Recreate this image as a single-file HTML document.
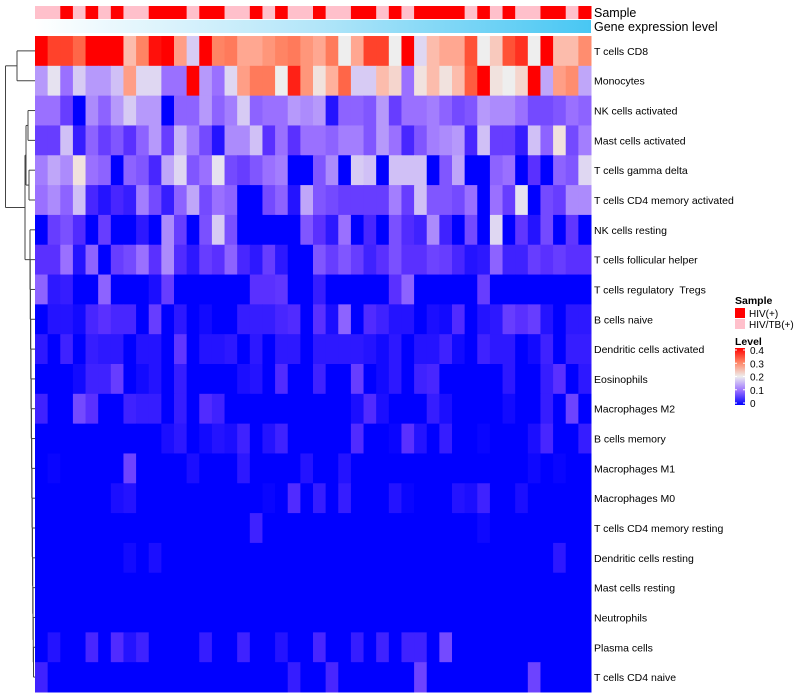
<!DOCTYPE html>
<html><head><meta charset="utf-8"><style>
body{margin:0;background:#fff;}
svg{display:block;font-family:"Liberation Sans",sans-serif;}
#labels text{white-space:pre;}
</style></head><body>
<svg id="chart" width="800" height="700" viewBox="0 0 800 700" xmlns="http://www.w3.org/2000/svg">
<defs>
<linearGradient id="geneGrad" x1="0" x2="1" y1="0" y2="0">
<stop offset="0" stop-color="#ffffff"/><stop offset="0.5" stop-color="#b4e6f9"/><stop offset="1" stop-color="#48c7f3"/>
</linearGradient>
<linearGradient id="levelGrad" x1="0" x2="0" y1="1" y2="0">
<stop offset="0" stop-color="#0000ff"/><stop offset="0.25" stop-color="#9a70ff"/><stop offset="0.5" stop-color="#eeeeee"/><stop offset="0.75" stop-color="#ff8464"/><stop offset="1" stop-color="#ff0000"/>
</linearGradient>
</defs>
<g id="cells"></g>
<g id="samplebar"></g>
<rect x="35" y="20" width="556" height="13" fill="url(#geneGrad)"/>
<text x="594" y="17" font-size="12.5">Sample</text>
<text x="594" y="31" font-size="12.5">Gene expression level</text>
<g id="labels" font-size="10.5"></g>
<g id="dendro" stroke="#444" stroke-width="1" fill="none"></g>
<g>
<text x="735" y="304" font-size="10.5" font-weight="bold">Sample</text>
<rect x="735" y="308" width="10" height="10" fill="#ff0000"/>
<text x="749" y="317" font-size="10">HIV(+)</text>
<rect x="735" y="319" width="10" height="10" fill="#ffc0cb"/>
<text x="749" y="328" font-size="10">HIV/TB(+)</text>
<text x="735" y="345" font-size="10.5" font-weight="bold">Level</text>
<rect x="735" y="348" width="10" height="57" fill="url(#levelGrad)"/>
<g id="levelTicks" font-size="10"></g>
</g>
</svg>
<script>
const rowLabels=["T cells CD8","Monocytes","NK cells activated","Mast cells activated","T cells gamma delta","T cells CD4 memory activated","NK cells resting","T cells follicular helper","T cells regulatory  Tregs","B cells naive","Dendritic cells activated","Eosinophils","Macrophages M2","B cells memory","Macrophages M1","Macrophages M0","T cells CD4 memory resting","Dendritic cells resting","Mast cells resting","Neutrophils","Plasma cells","T cells CD4 naive"];
const sampleGroups="PPRPRPRPPRRRPRRPPRPRPPRPPRRPRPRRRRPRPRPPRRPR".split("");
const levelTicks=[0,0.1,0.2,0.3,0.4];
const levels=[
[.45,.36,.36,.33,.45,.45,.45,.24,.3,.39,.45,.27,.17,.45,.3,.31,.26,.26,.28,.3,.31,.28,.26,.31,.2,.26,.36,.36,.2,.45,.18,.24,.26,.26,.35,.2,.23,.35,.37,.2,.45,.24,.24,.29],
[.13,.19,.1,.17,.13,.13,.16,.27,.18,.18,.1,.1,.45,.13,.1,.18,.27,.31,.31,.2,.38,.28,.21,.25,.33,.17,.17,.24,.22,.1,.21,.24,.21,.24,.34,.45,.21,.2,.22,.45,.14,.27,.29,.14],
[.1,.1,.06,0,.12,.09,.13,.17,.13,.13,0,.09,.09,.13,.09,.11,.17,.09,.1,.1,.13,.12,.13,.02,.09,.09,.08,.13,.06,.1,.1,.11,.09,.07,.08,.13,.12,.12,.1,.07,.07,.08,.1,.09],
[.06,.06,.16,.03,.09,.06,.08,.05,.09,.13,.06,.15,.11,.07,.02,.12,.12,.16,.05,.1,.05,.1,.1,.09,.11,.11,.08,.13,.1,.04,.08,.11,.12,.13,.04,.16,.06,.06,.03,.16,.09,.21,.07,.11],
[.11,.14,.12,.21,.1,.09,0,.09,.08,.04,.14,.18,.08,.1,.19,.07,.06,.08,.1,.11,0,0,.08,.12,0,.17,.16,0,.16,.16,.16,0,.08,.14,0,0,.09,.1,0,.05,0,.09,.08,.18],
[.1,.12,.09,.16,.04,.02,.04,.03,.11,.07,.03,.09,.14,.07,.1,.09,0,0,.07,.09,.02,.14,.08,.07,.06,.06,.06,.06,.11,.06,.16,.08,.08,.07,.1,0,.1,.06,.19,0,.07,.06,.12,.12],
[0,.06,.075,.045,0,.06,0,0,.025,0,.12,.06,0,.075,.17,.075,0,0,0,0,0,.08,.05,.025,.1,0,.04,0,.075,.045,.035,.12,.035,0,.07,0,.18,0,.055,.02,.07,0,.055,0],
[.05,.05,.1,.02,.09,0,.06,.07,.1,.05,.12,.045,.025,.06,.05,.09,.04,.025,.06,.025,0,0,.08,.06,.08,.06,.035,.05,.075,.05,.05,.065,.06,.04,.02,.025,.09,.035,.035,.06,.05,.06,.05,.05],
[.09,.025,.03,0,0,.09,0,0,0,.015,.06,0,0,0,0,0,0,.05,.05,.055,0,0,.03,0,0,0,0,0,.05,.09,0,0,0,0,0,.06,0,0,0,0,0,0,0,0],
[0,.02,.02,.01,.04,.05,.04,.04,0,.06,0,.025,0,.01,0,0,.03,.03,.03,.04,.045,0,.05,.015,.09,0,.045,.035,.02,.02,0,.015,.01,.045,0,.02,.025,.06,.05,.06,.02,0,.025,.025],
[.025,0,.035,0,.03,.025,.025,0,.02,.02,0,.055,0,.02,.02,.025,0,.025,0,.025,.025,0,.025,.025,.025,.025,.02,.01,.025,0,.02,.02,.035,.01,0,.035,.025,.025,0,.01,.035,0,.03,.03],
[0,0,0,.01,.035,.035,.06,0,.01,.02,0,.03,0,0,0,0,.015,.02,0,.045,0,0,.035,0,0,.06,0,.01,.025,0,.035,.04,0,0,0,0,0,.025,0,0,.03,.05,0,.025],
[.035,0,0,.07,.05,0,0,.035,.03,.03,0,.03,0,.045,.035,0,0,0,0,0,0,0,0,0,0,.015,.045,.015,0,0,0,.03,.015,0,0,0,0,.01,0,0,.03,0,.065,0],
[0,0,0,0,0,0,0,0,0,0,.015,.025,0,.01,.02,.015,.035,0,.02,.035,0,0,0,0,0,.045,0,0,.005,.05,.02,0,.03,0,0,.005,0,0,0,.015,.04,0,0,.03],
[0,.005,0,0,0,0,0,.065,0,0,0,0,.015,0,0,0,.025,0,0,0,0,.02,0,0,.02,0,0,0,0,0,0,0,0,0,0,0,0,0,0,.008,0,.005,0,0],
[0,0,0,0,0,0,.015,.02,0,0,0,0,0,0,0,0,0,0,.005,0,.045,0,.03,0,.03,0,0,0,.02,.005,0,0,0,.02,.015,.035,0,0,.015,0,0,0,0,0],
[0,0,0,0,0,0,0,0,0,0,0,0,0,0,0,0,0,.035,0,0,0,0,0,0,0,0,0,0,0,0,0,0,0,0,0,.008,0,0,0,0,0,0,0,0],
[0,0,0,0,0,0,0,.01,0,.015,0,0,0,0,0,0,0,0,0,0,0,0,0,0,0,0,0,0,0,0,0,0,0,0,0,0,0,0,0,0,0,.025,0,0],
[0,0,0,0,0,0,0,0,0,0,0,0,0,0,0,0,0,0,0,0,0,0,0,0,0,0,0,0,0,0,0,0,0,0,0,0,0,0,0,0,0,0,0,0],
[0,0,0,0,0,0,0,0,0,0,0,0,0,0,0,0,0,0,0,0,0,0,0,0,0,0,0,0,0,0,0,0,0,0,0,0,0,0,0,0,0,0,0,0],
[0,.02,0,0,.04,0,.045,.02,.035,0,0,0,0,.03,0,0,.035,0,0,.02,0,0,.04,0,0,.03,0,.035,0,.035,.035,0,.07,0,0,0,0,0,0,0,0,0,0,0],
[.035,0,0,0,0,0,0,0,0,0,0,0,0,0,0,0,0,0,0,0,.03,0,0,.04,0,0,0,0,0,0,.065,0,0,0,0,0,0,0,0,.065,0,0,0,0]
];
const NS="http://www.w3.org/2000/svg";
const X0=35,X1=591,Y0=36,Y1=692;
const nCols=sampleGroups.length,nRows=rowLabels.length;
const cw=(X1-X0)/nCols,rh=(Y1-Y0)/nRows;
const xCol=i=>X0+i*cw, yRow=r=>Y0+r*rh;
const stops=[[0,[0,0,255]],[.05,[90,48,255]],[.1,[154,112,255]],[.15,[200,180,248]],[.2,[238,238,238]],[.25,[255,176,156]],[.3,[255,132,100]],[.35,[255,82,54]],[.4,[255,0,0]]];
function color(v){v=Math.max(0,Math.min(.4,v));for(let i=1;i<stops.length;i++){if(v<=stops[i][0]){const a=stops[i-1],b=stops[i],t=(v-a[0])/(b[0]-a[0]);const c=a[1].map((x,k)=>Math.round(x+(b[1][k]-x)*t));return `rgb(${c})`;}}return "rgb(255,0,0)";}
function mk(tag,attrs,parent){const e=document.createElementNS(NS,tag);for(const k in attrs)e.setAttribute(k,attrs[k]);parent.appendChild(e);return e;}
const cells=document.getElementById("cells");
levels.forEach((row,r)=>row.forEach((v,c)=>{
 const e=mk("rect",{x:xCol(c),y:yRow(r),width:cw+0.5,height:rh+0.5,fill:color(v)},cells);
 
 
}));
const sb=document.getElementById("samplebar");
sampleGroups.forEach((g,c)=>{
 const e=mk("rect",{x:xCol(c),y:6,width:cw+0.5,height:13,fill:g==="R"?"#ff0000":"#ffc0cb"},sb);
 
 
});
const lb=document.getElementById("labels");
rowLabels.forEach((t,r)=>{
 const e=mk("text",{x:594,y:yRow(r)+rh/2+4},lb);
 e.textContent=t;
 
 
});
const lt=document.getElementById("levelTicks");
levelTicks.forEach(v=>{
 const y=405-(v/0.4)*53-2;
 mk("line",{x1:735,x2:737,y1:y,y2:y,stroke:"#fff"},lt);
 mk("line",{x1:743,x2:745,y1:y,y2:y,stroke:"#fff"},lt);
 const e=mk("text",{x:750,y:y+4},lt);
 e.textContent=String(v);
 
 
});
const d=document.getElementById("dendro");
const yc=r=>yRow(r)+rh/2;
function seg(x1,y1,x2,y2){mk("line",{x1,y1,x2,y2},d);}
function join(ya,xa,yb,xb,xn){seg(xa,ya,xn,ya);seg(xb,yb,xn,yb);seg(xn,ya,xn,yb);return (ya+yb)/2;}
const topNode=join(yc(0),35,yc(1),35,17);
const a1=join(yc(2),35,yc(3),35,28);
const a2=join(yc(4),35,yc(5),35,29);
const aNode=join(a1,28,a2,29,26);
let prevY=yc(21),prevX=35,xx=33.5;
for(let r=20;r>=6;r--){prevY=join(yc(r),35,prevY,prevX,xx);prevX=xx;xx-=0.25;}
const bNode=join(aNode,26,prevY,prevX,25);
join(topNode,17,bNode,25,5.5);
</script>
</body></html>
